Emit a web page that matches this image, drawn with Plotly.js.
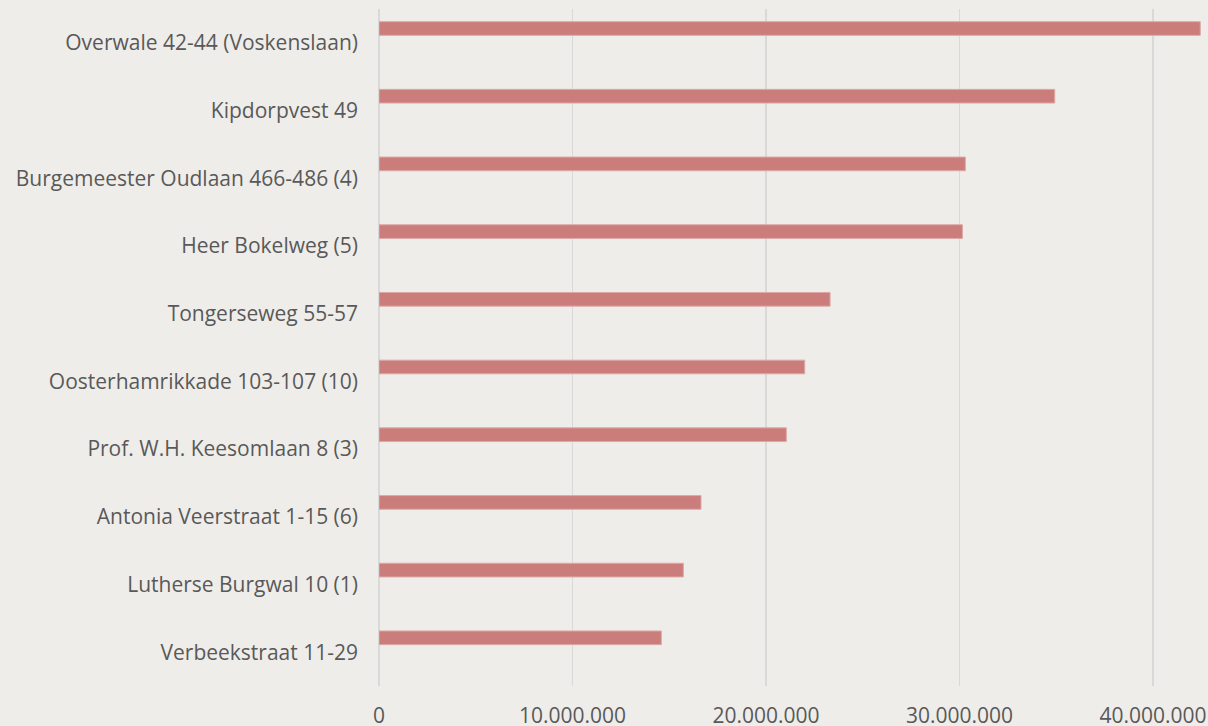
<!DOCTYPE html>
<html>
<head>
<meta charset="utf-8">
<script src="https://cdn.plot.ly/plotly-3.0.1.min.js"></script>
<style>
html,body{margin:0;padding:0;background:#EFEDE9;}
#chart{width:1208px;height:726px;}
</style>
</head>
<body>
<div id="chart"></div>
<script>
const categories = [
  "Overwale 42-44 (Voskenslaan)",
  "Kipdorpvest 49",
  "Burgemeester Oudlaan 466-486 (4)",
  "Heer Bokelweg (5)",
  "Tongerseweg 55-57",
  "Oosterhamrikkade 103-107 (10)",
  "Prof. W.H. Keesomlaan 8 (3)",
  "Antonia Veerstraat 1-15 (6)",
  "Lutherse Burgwal 10 (1)",
  "Verbeekstraat 11-29"
];
const values = [42440000, 34920000, 30300000, 30150000, 23310000, 22000000, 21050000, 16640000, 15730000, 14590000];
const tickValues = [0, 10000000, 20000000, 30000000, 40000000];

const trace = {
  type: 'bar',
  orientation: 'h',
  y: categories,
  x: values,
  width: 0.202,
  offset: -0.313,
  marker: {color: '#CB7D7B', line: {color: '#DDA9A7', width: 1}},
  hoverinfo: 'x+y'
};

const layout = {
  width: 1208, height: 726,
  paper_bgcolor: '#EFEDE9',
  plot_bgcolor: '#EFEDE9',
  separators: ',.',
  margin: {l: 379, r: 0, t: 9, b: 40, pad: 0},
  showlegend: false,
  bargap: 0,
  xaxis: {
    range: [0, 42840000],
    tickvals: tickValues,
    tickformat: ',d',
    showgrid: true, gridcolor: '#D9D9D9', gridwidth: 1.5,
    zeroline: true, zerolinecolor: '#D9D9D9', zerolinewidth: 1.5,
    showline: false, ticks: '',
    tickfont: {family: 'Open Sans, sans-serif', size: 21, color: '#595959'},
    ticklabelstandoff: 15,
    fixedrange: true
  },
  yaxis: {
    type: 'category',
    autorange: 'reversed',
    showgrid: false, zeroline: false, showline: false, ticks: '',
    tickfont: {family: 'Open Sans, sans-serif', size: 21, color: '#595959'},
    ticklabelstandoff: 20,
    fixedrange: true
  }
};

Plotly.newPlot('chart', [trace], layout, {displayModeBar: false, staticPlot: true});
</script>
</body>
</html>
